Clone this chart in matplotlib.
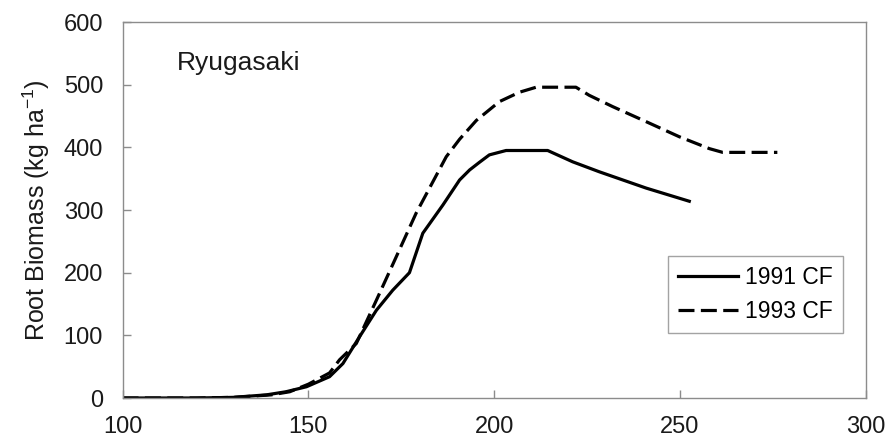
import matplotlib
matplotlib.use('Agg')
import matplotlib.pyplot as plt

# values (day of year vs root biomass)
day_1991 = [100, 110, 120, 129.7, 138.7, 144, 149.5, 155.7, 159.3, 163.8, 168.3, 172.7,
            177.2, 180.8, 186.2, 190.7, 193.4, 196, 198.7, 203.2, 214.4, 221.1, 228.3, 240.9, 252.5]
root_1991 = [0, 0, 0, 1, 5, 10, 18, 34, 55, 98, 140, 172,
             200, 263, 308, 348, 364, 376, 388, 395, 395, 377, 361, 335, 314]

day_1993 = [100, 120, 130, 140, 145, 150, 155.7, 158.4, 162.9, 168.3, 172.7, 179,
            183.5, 187.1, 190.7, 195.2, 201.4, 206.8, 211.3, 222, 225.6, 231.9, 240.9,
            249.8, 257.9, 261.5, 276.2]
root_1993 = [0, 0, 1, 5, 10, 22, 40, 61, 87, 156, 213, 295,
             345, 385, 413, 443, 473, 488, 496, 496, 483, 465, 441,
             417, 398, 392, 392]

x_ticks = [100, 150, 200, 250, 300]
y_ticks = [0, 100, 200, 300, 400, 500, 600]

plt.rcParams['font.family'] = ['Liberation Sans', 'DejaVu Sans']
plt.rcParams['mathtext.fontset'] = 'custom'
plt.rcParams['mathtext.rm'] = 'Liberation Sans'
plt.rcParams['mathtext.it'] = 'Liberation Sans'

fig = plt.figure(figsize=(8.88, 4.41), dpi=100)
ax = fig.add_axes([0.138, 0.0975, 0.837, 0.8525])

ax.plot(day_1991, root_1991, color='black', lw=2.3, solid_joinstyle='round', label='1991 CF')
ax.plot(day_1993, root_1993, color='black', lw=2.3, dashes=(5, 2), label='1993 CF')

ax.set_xlim(100, 300)
ax.set_ylim(0, 600)
ax.set_xticks(x_ticks)
ax.set_yticks(y_ticks)

for s in ax.spines.values():
    s.set_color('#8c8c8c')
    s.set_linewidth(1.0)
ax.tick_params(direction='in', length=6, width=1, color='#8c8c8c',
               labelsize=17, labelcolor='#1a1a1a')
ax.tick_params(axis='y', pad=14)
ax.tick_params(axis='x', pad=13)

ax.set_ylabel('Root Biomass (kg ha$^{-1}$)', fontsize=18, color='#1a1a1a', labelpad=8)
ax.text(0.073, 0.872, 'Ryugasaki', transform=ax.transAxes, fontsize=19,
        va='baseline', ha='left', color='#1a1a1a')

leg = ax.legend(loc='lower right', bbox_to_anchor=(0.969, 0.173), fontsize=16.5,
                frameon=True, fancybox=False, handlelength=2.6, handletextpad=0.3,
                borderpad=0.45, labelspacing=0.45, borderaxespad=0)
leg.get_frame().set_edgecolor('#8c8c8c')
leg.get_frame().set_linewidth(1.0)

fig.savefig('out.png', dpi=100)
